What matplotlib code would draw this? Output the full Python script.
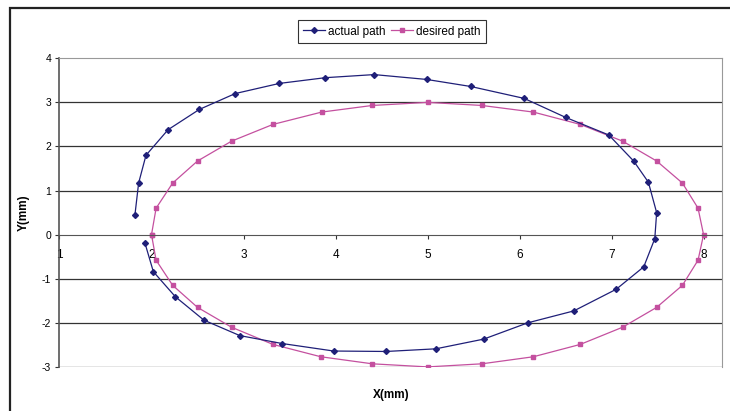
import matplotlib.pyplot as plt
from matplotlib.patches import Rectangle

plt.rcParams['font.family'] = ['Liberation Sans', 'DejaVu Sans']
plt.rcParams['axes.unicode_minus'] = False

# actual path (open curve)
actual_x = [1.93, 2.02, 2.26, 2.57, 2.96, 3.42, 3.98, 4.55, 5.09, 5.61, 6.09, 6.59,
            7.05, 7.35, 7.47, 7.49, 7.40, 7.24, 6.97, 6.50, 6.05, 5.47, 4.99, 4.42,
            3.89, 3.39, 2.91, 2.52, 2.18, 1.94, 1.86, 1.82]
actual_y = [-0.20, -0.84, -1.41, -1.94, -2.29, -2.47, -2.64, -2.65, -2.59, -2.37, -2.00, -1.73,
            -1.24, -0.73, -0.09, 0.50, 1.19, 1.67, 2.26, 2.66, 3.09, 3.36, 3.52, 3.63,
            3.56, 3.43, 3.20, 2.84, 2.38, 1.80, 1.17, 0.45]

# desired path (closed circle)
desired_x = [2.00, 2.05, 2.23, 2.50, 2.87, 3.32, 3.84, 4.40, 5.00, 5.59, 6.15, 6.66,
             7.12, 7.49, 7.77, 7.94, 8.00, 7.94, 7.77, 7.49, 7.12, 6.66, 6.15, 5.59,
             5.00, 4.40, 3.85, 3.32, 2.87, 2.50, 2.23, 2.05, 2.00]
desired_y = [0.00, -0.58, -1.15, -1.65, -2.10, -2.49, -2.77, -2.93, -3.00, -2.93, -2.77, -2.49,
             -2.10, -1.65, -1.15, -0.58, 0.00, 0.60, 1.17, 1.67, 2.12, 2.50, 2.78, 2.93,
             3.00, 2.93, 2.78, 2.50, 2.12, 1.67, 1.17, 0.60, 0.00]

x_ticks = [1, 2, 3, 4, 5, 6, 7, 8]
y_ticks = [-3, -2, -1, 0, 1, 2, 3, 4]

navy = '#1f1f78'
pink = '#c4509f'

fig = plt.figure(figsize=(7.3, 4.11), dpi=100)
ax = fig.add_axes([0.0815, 0.1073, 0.908, 0.7509])

# outer chart frame, clipped by the image at right and bottom
fig.patches.append(Rectangle((10 / 730, -0.05), 1.1, 1 - 8 / 411 + 0.05,
                             transform=fig.transFigure, fill=False,
                             edgecolor='#222222', linewidth=1.6))

for y in y_ticks:
    if y not in (0, 4):
        ax.axhline(y, color='#333333', linewidth=0.9, zorder=1)

ax.plot(actual_x, actual_y, color=navy, linewidth=0.9, marker='D', markersize=3.0,
        label='actual path', zorder=3)
ax.plot(desired_x, desired_y, color=pink, linewidth=0.9, marker='s', markersize=3.4,
        label='desired path', zorder=2)

ax.set_xlim(1, 8.204)
ax.set_ylim(-3, 4)
ax.set_xticks(x_ticks)
ax.set_yticks(y_ticks)

ax.spines['bottom'].set_position(('data', 0))
ax.spines['bottom'].set_color('#555555')
ax.spines['left'].set_color('#555555')
ax.spines['left'].set_linewidth(1.2)
ax.spines['top'].set_color('#999999')
ax.spines['right'].set_color('#999999')

ax.tick_params(axis='x', direction='out', length=3, width=0.8, color='#333333',
               labelsize=8.5, pad=7)
ax.tick_params(axis='y', direction='out', length=3, width=0.8, color='#333333',
               labelsize=7.5, pad=3)

ax.set_xlabel('X(mm)', fontsize=8.5, fontweight='bold')
ax.xaxis.set_label_coords(0.5, -0.073)
ax.set_ylabel('Y(mm)', fontsize=8.5, fontweight='bold')
ax.yaxis.set_label_coords(-0.045, 0.5)

leg = fig.legend(loc='center', bbox_to_anchor=(392 / 730, 1 - 31.5 / 411), ncol=2,
                 fontsize=8.5, frameon=True, fancybox=False, numpoints=1,
                 handlelength=1.8, handletextpad=0.3, columnspacing=0.5,
                 borderpad=0.45, borderaxespad=0)
leg.get_frame().set_edgecolor('black')
leg.get_frame().set_linewidth(0.8)

fig.savefig('out.png', dpi=100)
